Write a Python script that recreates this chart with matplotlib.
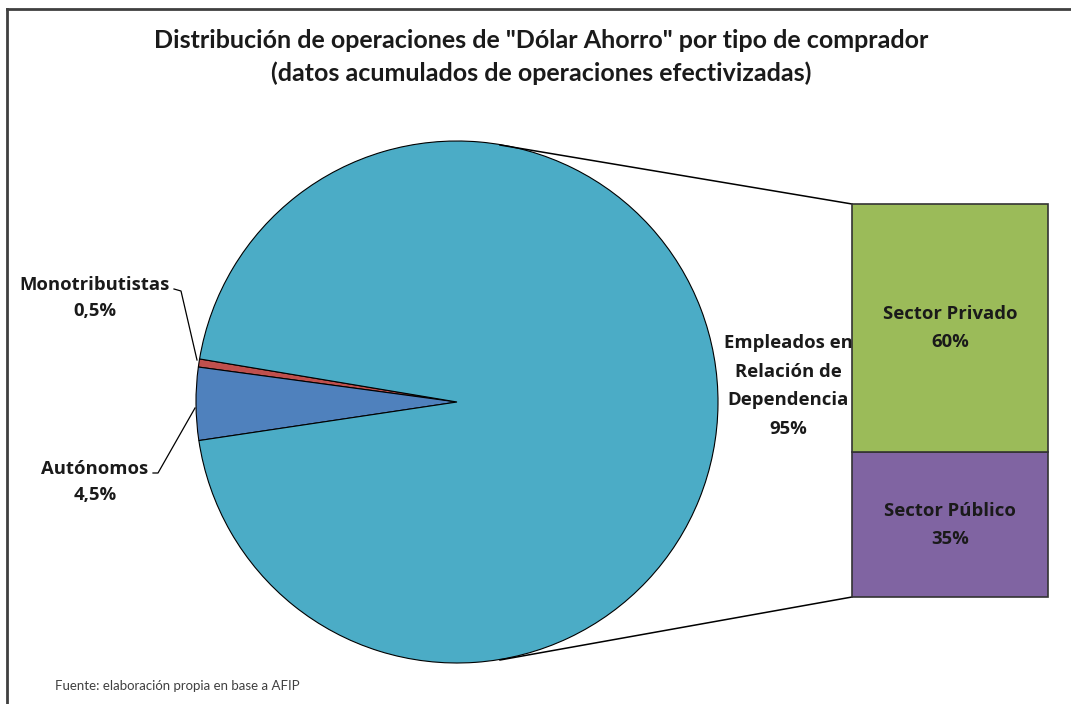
import matplotlib
matplotlib.use("Agg")
import matplotlib.pyplot as plt
from matplotlib.lines import Line2D

# Datos
categorias = ["Monotributistas", "Autónomos", "Empleados en\nRelación de\nDependencia"]
valores = [0.5, 4.5, 95]
etiquetas_pct = ["0,5%", "4,5%", "95%"]
colores_pie = ["#C0504D", "#4F81BD", "#4BACC6"]

sectores = ["Sector Público", "Sector Privado"]
valores_sector = [35, 60]
colores_sector = ["#8064A2", "#9BBB59"]

titulo = 'Distribución de operaciones de "Dólar Ahorro" por tipo de comprador\n(datos acumulados de operaciones efectivizadas)'
fuente = "Fuente: elaboración propia en base a AFIP"

plt.rcParams['font.family'] = ['Lato', 'DejaVu Sans']
fam_lbl = ['Open Sans', 'DejaVu Sans']

W, H = 1071, 704
fig = plt.figure(figsize=(W / 100, H / 100), dpi=100)
ax = fig.add_axes([0, 0, 1, 1])

def Y(y):  # coordenada de imagen -> coordenada del eje
    return H - y

# borde (solo superior e izquierdo visibles)
ax.add_line(Line2D([7, 7], [Y(9), Y(704)], color="#404040", lw=2, zorder=0))
ax.add_line(Line2D([7, 1071], [Y(9), Y(9)], color="#404040", lw=2, zorder=0))

# Pie principal
cx, cy, r = 457, Y(402), 261
ax.pie(valores, colors=colores_pie, startangle=170.5, center=(cx, cy), radius=r,
       frame=True, wedgeprops=dict(edgecolor="black", linewidth=0.8))

# Barra apilada (segundo grafico)
bx0, bx1, by_bot, by_top = 852, 1048, Y(597), Y(204)
k = (by_top - by_bot) / sum(valores_sector)
base = by_bot
for s, v, c in zip(sectores, valores_sector, colores_sector):
    ax.bar((bx0 + bx1) / 2, v * k, width=bx1 - bx0, bottom=base, color=c,
           edgecolor="#333333", linewidth=1.2, zorder=3)
    ax.text((bx0 + bx1) / 2, base + v * k / 2, f"{s}\n{v}%", ha="center", va="center",
            fontsize=13.3, fontweight="bold", color="#1a1a1a", linespacing=1.7,
            family=fam_lbl, zorder=4)
    base += v * k

# lineas de conexion
ax.add_line(Line2D([500, bx0], [Y(145), by_top], color="black", lw=1.1, zorder=2))
ax.add_line(Line2D([500, bx0], [Y(660), by_bot], color="black", lw=1.1, zorder=2))

# etiquetas
ax.text(95, Y(298), f"{categorias[0]}\n{etiquetas_pct[0]}", ha="center", va="center",
        fontsize=13.3, fontweight="bold", color="#1a1a1a", linespacing=1.55, family=fam_lbl)
ax.add_line(Line2D([174, 181, 197], [Y(289), Y(291), Y(360)], color="black", lw=0.9))

ax.text(95, Y(482), f"{categorias[1]}\n{etiquetas_pct[1]}", ha="center", va="center",
        fontsize=13.3, fontweight="bold", color="#1a1a1a", linespacing=1.55, family=fam_lbl)
ax.add_line(Line2D([153, 158, 195], [Y(473), Y(473), Y(408)], color="black", lw=0.9))

ax.text(788, Y(386), f"{categorias[2]}\n{etiquetas_pct[2]}", ha="center", va="center",
        fontsize=13.3, fontweight="bold", color="#1a1a1a", linespacing=1.75,
        family=fam_lbl, zorder=1)

# titulo y fuente
ax.text(541, Y(57), titulo, ha="center", va="center", fontsize=18, fontweight="bold",
        color="#1a1a1a", linespacing=1.45)
ax.text(55, Y(686), fuente, ha="left", va="center", fontsize=9.5, color="#404040")

ax.set_xlim(0, W)
ax.set_ylim(0, H)
ax.set_aspect("auto")
ax.axis("off")

fig.savefig("out.png", dpi=100, facecolor="white")
